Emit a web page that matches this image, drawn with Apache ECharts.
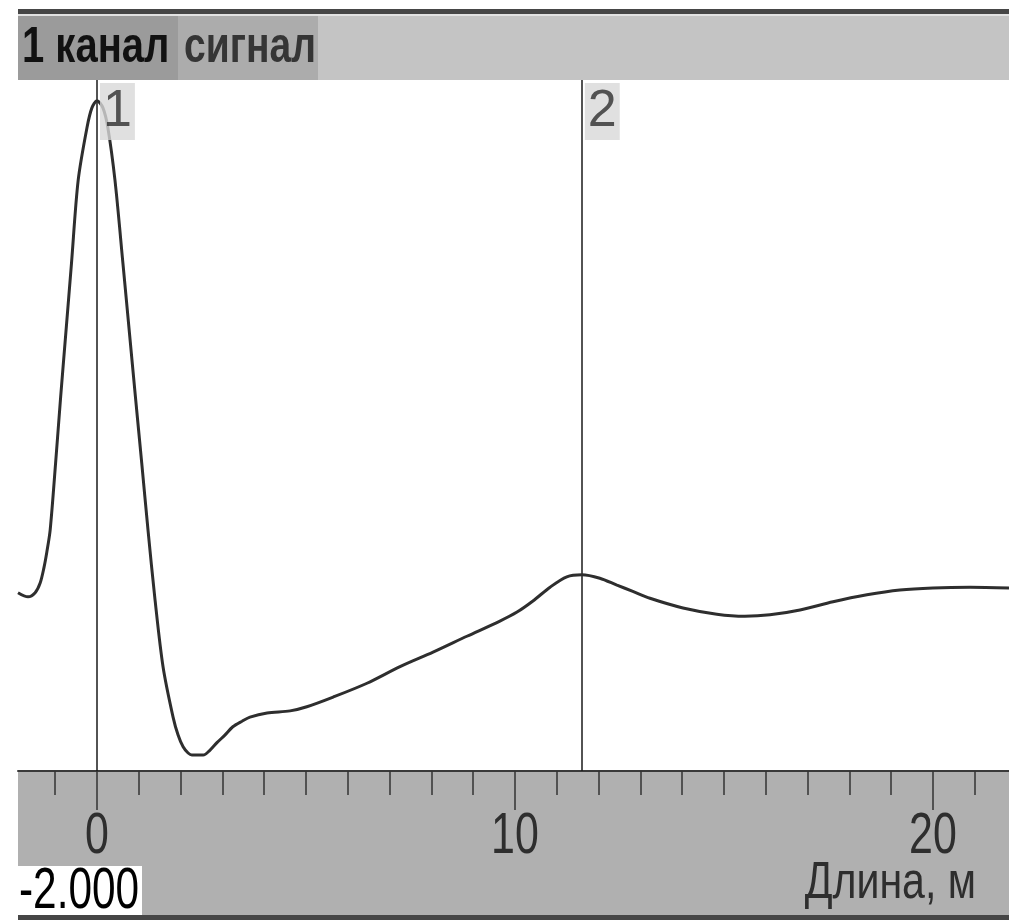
<!DOCTYPE html>
<html>
<head>
<meta charset="utf-8">
<title>1 канал сигнал</title>
<script src="https://cdn.jsdelivr.net/npm/echarts@6/dist/echarts.min.js"></script>
<style>
  html, body { margin: 0; padding: 0; background: #fff; }
  #chart { width: 1009px; height: 920px; }
</style>
</head>
<body>
<div id="chart"></div>
<script>
// длина, м
const distance = [
  -1.89, -1.65, -1.48, -1.36, -1.27, -1.20, -1.12, -0.99, -0.87, -0.74,
  -0.61, -0.45, -0.24, -0.12, 0.00, 0.14, 0.26, 0.43, 0.62, 0.77,
  0.92, 1.07, 1.22, 1.39, 1.58, 1.82, 1.94, 2.06, 2.18, 2.27,
  2.54, 2.70, 2.87, 3.06, 3.25, 3.47, 3.66, 4.07, 4.62, 5.02,
  5.65, 6.46, 7.25, 8.04, 8.85, 9.64, 10.05, 10.43, 10.84, 11.24,
  11.60, 12.03, 12.44, 12.82, 13.23, 14.02, 14.83, 15.50, 16.10, 16.82,
  17.61, 18.42, 19.21, 20.00, 20.89, 21.82
];
// сигнал (условные единицы)
const amplitude = [
  25.8, 25.2, 25.8, 27.2, 29.4, 31.7, 34.9, 44.6, 54.1, 63.8,
  73.5, 85.5, 93.1, 96.0, 97.0, 96.0, 93.1, 85.5, 73.5, 63.8,
  54.1, 44.6, 34.9, 24.7, 15.1, 7.8, 5.2, 3.5, 2.6, 2.3,
  2.3, 3.0, 4.1, 5.2, 6.4, 7.2, 7.8, 8.4, 8.7, 9.3,
  10.7, 12.7, 15.1, 17.2, 19.5, 21.7, 23.0, 24.6, 26.6, 28.1,
  28.4, 27.9, 26.9, 26.0, 25.0, 23.6, 22.7, 22.4, 22.6, 23.3,
  24.5, 25.5, 26.2, 26.5, 26.6, 26.5
];
const cursorX = [0, 11.6];
const cursorNames = ['1', '2'];
const minorTicks = [-1, 0, 1, 2, 3, 4, 5, 6, 7, 8, 9, 10, 11, 12, 13, 14, 15, 16, 17, 18, 19, 20, 21];
const majorTicks = [0, 10, 20];
const startValue = '-2.000';
const axisName = 'Длина, м';
const channelName = '1 канал';
const modeName = 'сигнал';

const FONT = '"Liberation Sans", Arial, sans-serif';
const SQUEEZE = 0.74;

const chart = echarts.init(document.getElementById('chart'));

chart.setOption({
  backgroundColor: '#fff',
  animation: false,
  grid: { left: 18, right: 0, top: 80, bottom: 149 },
  xAxis: [
    {
      type: 'value', min: -1.89, max: 21.82,
      axisLine: { show: true, lineStyle: { color: '#3a3a3a', width: 2 } },
      axisTick: { show: true, length: 24, customValues: minorTicks, lineStyle: { color: '#333', width: 1.5 } },
      axisLabel: { show: false },
      splitLine: { show: false }
    },
    {
      type: 'value', min: -1.89, max: 21.82, position: 'bottom',
      axisLine: { show: false },
      axisTick: { show: true, length: 39, customValues: majorTicks, lineStyle: { color: '#333', width: 1.5 } },
      axisLabel: { show: false },
      splitLine: { show: false }
    }
  ],
  yAxis: { type: 'value', min: 0, max: 100, show: false },
  series: [
    {
      type: 'line',
      data: distance.map((d, i) => [d, amplitude[i]]),
      showSymbol: false,
      smooth: 0.3,
      clip: true,
      lineStyle: { color: '#2e2e2e', width: 3 },
      markLine: {
        silent: true,
        symbol: 'none',
        label: { show: false },
        lineStyle: { color: '#1a1a1a', width: 1.5, type: 'solid' },
        data: cursorX.map(v => ({ xAxis: v }))
      },
      z: 5
    },
    {
      type: 'scatter',
      data: cursorX.map(v => [v, 100]),
      symbolSize: 0,
      silent: true,
      label: {
        show: true,
        position: [3, 3],
        formatter: p => cursorNames[p.dataIndex],
        fontFamily: FONT, fontSize: 52, color: '#2e2e2e',
        backgroundColor: '#d8d8d8',
        padding: [3, 3, 2, 3],
        lineHeight: 52
      },
      z: 6
    }
  ]
});

// фон, подписи и цифры шкалы (по значениям оси)
const scaleLabels = majorTicks.map(v => ({
  type: 'text', z: 70,
  x: chart.convertToPixel({ xAxisIndex: 1 }, v),
  y: 837,
  scaleX: SQUEEZE,
  style: { text: String(v), font: '58px ' + FONT, fill: '#2e2e2e', align: 'center', verticalAlign: 'middle' }
}));

chart.setOption({
  graphic: [
    { type: 'rect', z: -10, shape: { x: 18, y: 9, width: 991, height: 5 }, style: { fill: '#464646' } },
    { type: 'rect', z: -10, shape: { x: 18, y: 14, width: 991, height: 2 }, style: { fill: '#e2e2e2' } },
    { type: 'rect', z: -10, shape: { x: 18, y: 16, width: 991, height: 64 }, style: { fill: '#c4c4c4' } },
    { type: 'rect', z: -9, shape: { x: 18, y: 16, width: 160, height: 64 }, style: { fill: '#9b9b9b' } },
    { type: 'rect', z: -9, shape: { x: 178, y: 16, width: 140, height: 64 }, style: { fill: '#acacac' } },
    { type: 'rect', z: -10, shape: { x: 18, y: 771, width: 991, height: 144 }, style: { fill: '#b0b0b0' } },
    { type: 'rect', z: 50, shape: { x: 18, y: 915, width: 991, height: 5 }, style: { fill: '#464646' } },
    {
      type: 'text', z: 70, x: 22, y: 48, scaleX: 0.8,
      style: { text: channelName, font: 'bold 50px ' + FONT, fill: '#111', verticalAlign: 'middle' }
    },
    {
      type: 'text', z: 70, x: 184, y: 48, scaleX: 0.78,
      style: { text: modeName, font: 'bold 50px ' + FONT, fill: '#353535', verticalAlign: 'middle' }
    },
    { type: 'rect', z: 65, shape: { x: 18, y: 866, width: 124, height: 49 }, style: { fill: '#fff' } },
    {
      type: 'text', z: 70, x: 19, y: 892, scaleX: 0.73,
      style: { text: startValue, font: '58px ' + FONT, fill: '#000', verticalAlign: 'middle' }
    },
    {
      type: 'text', z: 70, x: 976, y: 884, scaleX: 0.79,
      style: { text: axisName, font: '52px ' + FONT, fill: '#2e2e2e', align: 'right', verticalAlign: 'middle' }
    }
  ].concat(scaleLabels)
});
</script>
</body>
</html>
